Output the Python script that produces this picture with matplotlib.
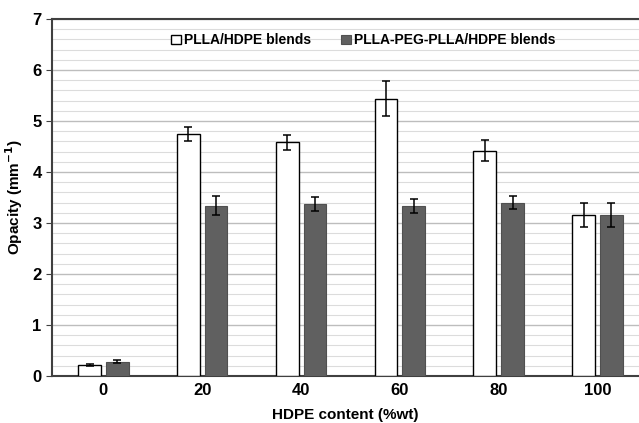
import numpy as np
import matplotlib.pyplot as plt
from matplotlib.ticker import MultipleLocator

plt.rcParams['font.family'] = ['Liberation Sans', 'DejaVu Sans']
plt.rcParams['font.weight'] = 'bold'

categories = ['0', '20', '40', '60', '80', '100']
plla_hdpe = [0.21, 4.75, 4.58, 5.44, 4.42, 3.16]
plla_hdpe_err = [0.02, 0.14, 0.15, 0.34, 0.21, 0.23]
peg_hdpe = [0.28, 3.34, 3.37, 3.34, 3.40, 3.16]
peg_hdpe_err = [0.03, 0.19, 0.14, 0.14, 0.13, 0.23]

fig = plt.figure(figsize=(6.39, 4.23), dpi=100)
ax = fig.add_axes([52 / 639, 47 / 423, 587 / 639, 357 / 423])

x = np.arange(len(categories))
w = 0.23
err_kw = dict(ecolor='black', capsize=3, elinewidth=1.1, capthick=1.1)
ax.bar(x - 0.14, plla_hdpe, w, yerr=plla_hdpe_err, color='white',
       edgecolor='black', linewidth=1.0, label='PLLA/HDPE blends',
       error_kw=err_kw, zorder=3)
ax.bar(x + 0.14, peg_hdpe, w, yerr=peg_hdpe_err, color='#606060',
       edgecolor='#505050', linewidth=0.8, label='PLLA-PEG-PLLA/HDPE blends',
       error_kw=err_kw, zorder=3)

ax.set_xlim(-0.52, 5.42)
ax.set_ylim(0, 7)
ax.set_xticks(x)
ax.set_xticklabels(categories)
ax.yaxis.set_major_locator(MultipleLocator(1))
ax.yaxis.set_minor_locator(MultipleLocator(0.2))
ax.grid(axis='y', which='major', color='#bdbdbd', linewidth=1.0, zorder=0)
ax.grid(axis='y', which='minor', color='#dcdcdc', linewidth=0.8, zorder=0)
ax.set_axisbelow(True)

ax.tick_params(axis='x', length=0, labelsize=12, pad=5)
ax.tick_params(axis='y', which='major', length=4, labelsize=12, color='#404040')
ax.tick_params(axis='y', which='minor', length=0)

for s in ['left', 'bottom', 'top']:
    ax.spines[s].set_color('#404040')
    ax.spines[s].set_linewidth(1.5)
ax.spines['right'].set_visible(False)

ax.set_xlabel('HDPE content (%wt)', fontsize=11, fontweight='bold', labelpad=7)
ax.set_ylabel('Opacity (mm$^{\\mathbf{-1}}$)', fontsize=11, fontweight='bold', labelpad=5)

ax.legend(loc='upper center', bbox_to_anchor=(0.53, 0.995), ncol=2, frameon=False,
          fontsize=10, handlelength=0.7, handleheight=0.7, handletextpad=0.2,
          columnspacing=2.2)

fig.savefig('out.png', dpi=100)
